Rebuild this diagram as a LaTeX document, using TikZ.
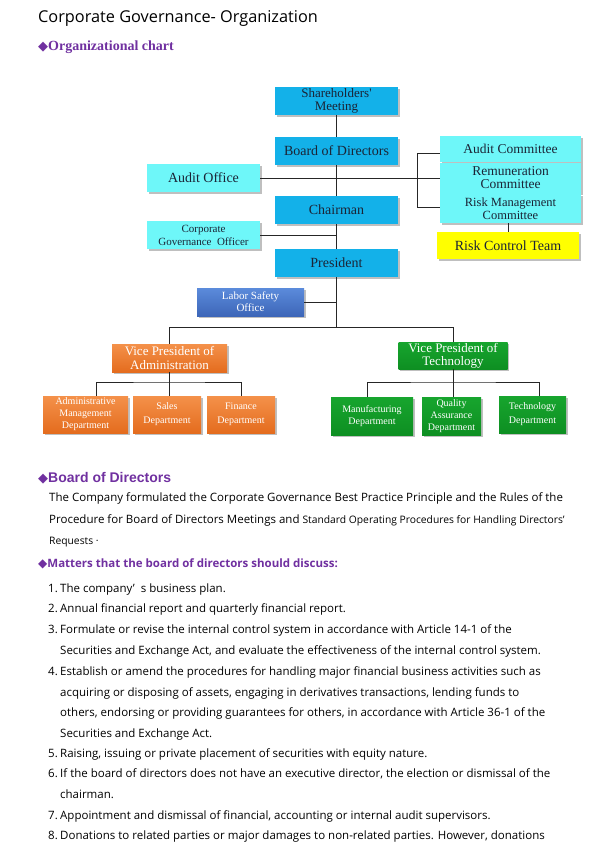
\documentclass[tikz,border=0pt]{standalone}
\usepackage{fontspec}
\setmainfont{Liberation Serif}
\newfontfamily\bodyfont{Open Sans}
\newfontfamily\arialfont{Liberation Sans}
\newfontfamily\symfont{DejaVu Sans}
\usetikzlibrary{shadows}
\definecolor{topblue}{HTML}{13B1E9}
\definecolor{cyanbox}{HTML}{6EF7F9}
\definecolor{laborT}{HTML}{5B8BDB}
\definecolor{laborB}{HTML}{3D66B8}
\definecolor{orangeT}{HTML}{F4914A}
\definecolor{orangeB}{HTML}{E46C1E}
\definecolor{greenT}{HTML}{17A52E}
\definecolor{greenB}{HTML}{0E8F22}
\definecolor{yellowbox}{HTML}{FFFF00}
\definecolor{purp}{HTML}{7030A0}
\definecolor{navytext}{HTML}{1B2436}
\tikzset{
  box/.style={rectangle, inner sep=0pt, align=center, font=\fontsize{14}{14}\selectfont,
    drop shadow={shadow xshift=1.5pt, shadow yshift=-1.5pt, opacity=0.25, fill=black}},
  bluebox/.style={box, fill=topblue, text=navytext, minimum width=123pt, minimum height=28pt},
  cyanb/.style={box, fill=cyanbox, text=navytext},
  laborbox/.style={box, top color=laborT, bottom color=laborB, text=white, minimum width=107pt, minimum height=28pt, font=\fontsize{11}{12}\selectfont},
  orbox/.style={box, top color=orangeT, bottom color=orangeB, text=white},
  grbox/.style={box, top color=greenT, bottom color=greenB, text=white},
  conn/.style={draw=black!85, line width=0.9pt},
  txt/.style={anchor=base west, inner sep=0pt, font=\bodyfont\fontsize{11.5}{12}\selectfont},
  sm/.style={anchor=base west, inner sep=0pt, font=\bodyfont\fontsize{10.3}{12}\selectfont},
}
\begin{document}
\begin{tikzpicture}[x=1pt,y=-1pt]
\useasboundingbox (0,0) rectangle (600,846);
% ---------- headings ----------
\node[anchor=base west, inner sep=0pt, font=\bodyfont\fontsize{16.3}{18}\selectfont] (title) at (38,22) {Corporate Governance- Organization};
\node[anchor=base west, inner sep=0pt, text=purp, font=\bfseries\fontsize{14}{14}\selectfont] (orgchart) at (38,50) {{\symfont\fontsize{13}{12}\selectfont ◆}Organizational chart};
% ---------- chart ----------
\node[bluebox, font=\fontsize{13}{12.5}\selectfont] (sh) at (336.5,101) {Shareholders\textquotesingle\\Meeting};
\node[bluebox] (bod) at (336.5,151) {Board of Directors};
\node[bluebox] (ch) at (336.5,210) {Chairman};
\node[bluebox] (pres) at (336.5,263) {President};
\node[cyanb, minimum width=113pt, minimum height=28pt] (ao) at (203.5,178) {Audit Office};
\node[cyanb, minimum width=113pt, minimum height=28pt, font=\fontsize{11}{13}\selectfont] (cgo) at (203.5,235) {Corporate\\Governance\ \ Officer};
\node[cyanb, minimum width=141pt, minimum height=26pt, font=\fontsize{13.5}{14}\selectfont] (ac) at (510.5,149) {Audit Committee};
\node[cyanb, minimum width=141pt, minimum height=31pt, font=\fontsize{13.5}{13}\selectfont] (rem) at (510.5,178) {Remuneration\\Committee};
\node[cyanb, minimum width=141pt, minimum height=29pt, font=\fontsize{12.5}{12.5}\selectfont] (rmc) at (510.5,208.5) {Risk Management\\Committee};
\node[box, fill=yellowbox, text=navytext, minimum width=142pt, minimum height=27pt, font=\fontsize{14}{14}\selectfont] (rct) at (508,245.5) {Risk Control Team};
\node[laborbox] (lso) at (250.5,302) {Labor Safety\\Office};
\node[orbox, minimum width=115pt, minimum height=28pt, font=\fontsize{13}{14}\selectfont] (vpa) at (169.5,358) {Vice President of\\Administration};
\node[grbox, minimum width=109pt, minimum height=27pt, font=\fontsize{13}{13}\selectfont] (vpt) at (453,355.5) {Vice President of\\Technology};
\node[orbox, minimum width=85pt, minimum height=37pt, font=\fontsize{10}{12}\selectfont] (amd) at (85.5,414.5) {Administrative\\Management\\Department};
\node[orbox, minimum width=68pt, minimum height=37pt, font=\fontsize{10}{14}\selectfont] (sales) at (167,414.5) {Sales\\Department};
\node[orbox, minimum width=68pt, minimum height=37pt, font=\fontsize{10}{14}\selectfont] (fin) at (241,414.5) {Finance\\Department};
\node[grbox, minimum width=82pt, minimum height=38pt, font=\fontsize{10}{12}\selectfont] (mfg) at (372,416) {Manufacturing\\Department};
\node[grbox, minimum width=59pt, minimum height=38pt, font=\fontsize{10}{12}\selectfont] (qa) at (451.5,416) {Quality\\Assurance\\Department};
\node[grbox, minimum width=67pt, minimum height=37pt, font=\fontsize{10}{14}\selectfont] (tech) at (532.5,414.5) {Technology\\Department};
\coordinate (hub) at (336.5,327);
\coordinate (abus) at (169.5,382);
\coordinate (tbus) at (453,382);
% connectors
\draw[conn] (sh) -- (bod);
\draw[conn] (bod) -- (ch);
\draw[conn] (ch) -- (pres);
\draw[conn] (pres) -- (hub);
\draw[conn] (ao.east) -- (rem.west);
\draw[conn] ([yshift=-4pt]ac.west) -- ++(-22,0) |- ([yshift=1pt]rmc.west);
\draw[conn] (cgo.east) -- (cgo.east -| pres.north);
\draw[conn] (lso.east) -- (lso.east -| pres.north);
\draw[conn] (rmc.south -| rct.north) -- (rct.north);
\draw[conn] (vpa.north) -- (vpa.north |- hub) -- (vpt.north |- hub) -- (vpt.north);
\draw[conn] (vpa.south) -- (abus);
\draw[conn] ([xshift=10.5pt]amd.north) |- (abus) -| (fin.north);
\draw[conn] ([xshift=2.5pt]sales.north) -- ([xshift=2.5pt]sales.north |- abus);
\draw[conn] (vpt.south) -- (tbus);
\draw[conn] ([xshift=-5pt]mfg.north) |- (tbus) -| ([xshift=6.5pt]tech.north);
\draw[conn] (qa.north -| tbus) -- (tbus);
% ---------- text section ----------
\node[anchor=base west, inner sep=0pt, text=purp, font=\arialfont\bfseries\fontsize{14}{14}\selectfont] (bodh) at (38,482) {{\symfont\fontsize{13}{12}\selectfont ◆}Board of Directors};
\node[txt] (p1) at (49,501) {The Company formulated the Corporate Governance Best Practice Principle and the Rules of the};
\node[txt] (p2) at (49,523) {Procedure for Board of Directors Meetings and {\fontsize{10.3}{12}\selectfont Standard Operating Procedures for Handling Directors’}};
\node[sm] (p3) at (49,544) {Requests ·};
\node[anchor=base west, inner sep=0pt, text=purp, font=\bodyfont\bfseries\fontsize{11.5}{12}\selectfont] (math) at (38,567) {{\symfont\fontsize{12}{12}\selectfont ◆}Matters that the board of directors should discuss:};
\node[txt] (n1) at (48,592) {1.};
\node[txt] (t1) at (60,592) {The company’\hspace{6pt}s business plan.};
\node[txt] (n2) at (48,612) {2.};
\node[txt] (t2) at (60,612) {Annual financial report and quarterly financial report.};
\node[txt] (n3) at (48,633) {3.};
\node[txt] (t3) at (60,633) {Formulate or revise the internal control system in accordance with Article 14-1 of the};
\node[txt] (t3b) at (60,654) {Securities and Exchange Act, and evaluate the effectiveness of the internal control system.};
\node[txt] (n4) at (48,675) {4.};
\node[txt] (t4) at (60,675) {Establish or amend the procedures for handling major financial business activities such as};
\node[txt] (t4b) at (60,696) {acquiring or disposing of assets, engaging in derivatives transactions, lending funds to};
\node[txt] (t4c) at (60,716) {others, endorsing or providing guarantees for others, in accordance with Article 36-1 of the};
\node[txt] (t4d) at (60,737) {Securities and Exchange Act.};
\node[txt] (n5) at (48,757) {5.};
\node[txt] (t5) at (60,757) {Raising, issuing or private placement of securities with equity nature.};
\node[txt] (n6) at (48,777) {6.};
\node[txt] (t6) at (60,777) {If the board of directors does not have an executive director, the election or dismissal of the};
\node[txt] (t6b) at (60,798) {chairman.};
\node[txt] (n7) at (48,819) {7.};
\node[txt] (t7) at (60,819) {Appointment and dismissal of financial, accounting or internal audit supervisors.};
\node[txt] (n8) at (48,839) {8.};
\node[txt] (t8) at (60,839) {Donations to related parties or major damages to non-related parties. However, donations};
\end{tikzpicture}
\end{document}
